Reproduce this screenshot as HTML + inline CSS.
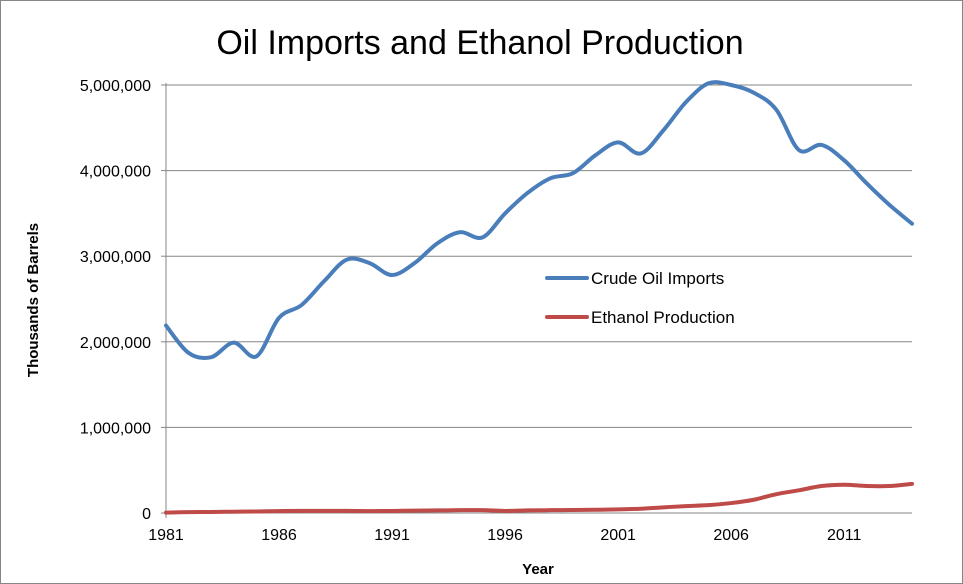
<!DOCTYPE html>
<html><head><meta charset="utf-8"><style>
body{margin:0;background:#fff}
svg{display:block;font-family:"Liberation Sans",Arial,sans-serif}
</style></head><body>
<svg width="963" height="584" viewBox="0 0 963 584">
<rect x="0.5" y="0.5" width="962" height="583" fill="#fff" stroke="#868686"/>
<text x="480" y="54" font-size="34" text-anchor="middle" fill="#000">Oil Imports and Ethanol Production</text>
<g id="grid"></g>
<g id="axes"></g>
<g id="series"></g>
<text x="538" y="574" font-size="15" font-weight="bold" text-anchor="middle">Year</text>
<text transform="translate(38,300) rotate(-90)" font-size="15" font-weight="bold" text-anchor="middle">Thousands of Barrels</text>
<g>
<line x1="547" y1="278" x2="587" y2="278" stroke="#4a7ebb" stroke-width="4" stroke-linecap="round"/>
<text x="591" y="284" font-size="17">Crude Oil Imports</text>
<line x1="547" y1="317" x2="587" y2="317" stroke="#be4b48" stroke-width="4" stroke-linecap="round"/>
<text x="591" y="323" font-size="17">Ethanol Production</text>
</g>
</svg>
<script>
const years=[1981,1982,1983,1984,1985,1986,1987,1988,1989,1990,1991,1992,1993,1994,1995,1996,1997,1998,1999,2000,2001,2002,2003,2004,2005,2006,2007,2008,2009,2010,2011,2012,2013,2014];
const oilImports=[2190000,1870000,1820000,1990000,1830000,2280000,2430000,2710000,2960000,2920000,2780000,2920000,3150000,3280000,3220000,3500000,3740000,3910000,3970000,4180000,4330000,4200000,4470000,4800000,5020000,5000000,4910000,4710000,4240000,4300000,4120000,3850000,3600000,3380000];
const ethanol=[5000,10000,12000,15000,18000,22000,25000,25000,25000,22000,24000,28000,30000,33000,33000,24000,30000,33000,35000,38000,42000,50000,66000,81000,92000,116000,155000,220000,265000,315000,330000,315000,315000,340000];
const yTicks=[0,1000000,2000000,3000000,4000000,5000000];
const xTicks=[1981,1986,1991,1996,2001,2006,2011];
const X0=166,X1=912,Y0=513,Y1=85;
const sx=y=>X0+(y-1981)/(2014-1981)*(X1-X0);
const sy=v=>Y0-v/5000000*(Y0-Y1);
const NS="http://www.w3.org/2000/svg";
function mk(tag,attrs,parent){const e=document.createElementNS(NS,tag);for(const k in attrs)e.setAttribute(k,attrs[k]);parent.appendChild(e);return e;}
const grid=document.getElementById('grid'),axes=document.getElementById('axes'),ser=document.getElementById('series');
yTicks.forEach(v=>{
 const y=sy(v);
 if(v>0){const l=mk('line',{x1:X0,x2:X1,y1:y,y2:y,stroke:'#868686','stroke-width':1},grid);
 
 }
 const tk=mk('line',{x1:X0-5,x2:X0,y1:y,y2:y,stroke:'#868686'},axes);
 
 
 const t=mk('text',{x:X0-15,y:y+6,'font-size':16,'text-anchor':'end'},axes);
 t.textContent=v.toLocaleString('en-US');
 
 
});
const ya=mk('line',{x1:X0,x2:X0,y1:Y1-2,y2:Y0+5,stroke:'#868686'},axes);


const xa=mk('line',{x1:X0,x2:X1,y1:Y0,y2:Y0,stroke:'#868686'},axes);


xTicks.forEach(yr=>{
 const t=mk('text',{x:sx(yr),y:540,'font-size':16,'text-anchor':'middle'},axes);
 t.textContent=yr;
 
 
});
function smooth(vals){
 const p=vals.map((v,i)=>[sx(years[i]),sy(v)]);
 let d='M'+p[0][0]+','+p[0][1];
 for(let i=0;i<p.length-1;i++){
  const a=p[Math.max(0,i-1)],b=p[i],c=p[i+1],e=p[Math.min(p.length-1,i+2)];
  const c1=[b[0]+(c[0]-a[0])/6,b[1]+(c[1]-a[1])/6],c2=[c[0]-(e[0]-b[0])/6,c[1]-(e[1]-b[1])/6];
  d+=' C'+c1+' '+c2+' '+c;
 }
 return d;
}
const o=mk('path',{d:smooth(oilImports),fill:'none',stroke:'#4a7ebb','stroke-width':4,'stroke-linecap':'round'},ser);


const et=mk('path',{d:smooth(ethanol),fill:'none',stroke:'#be4b48','stroke-width':4,'stroke-linecap':'round'},ser);


</script>
</body></html>
